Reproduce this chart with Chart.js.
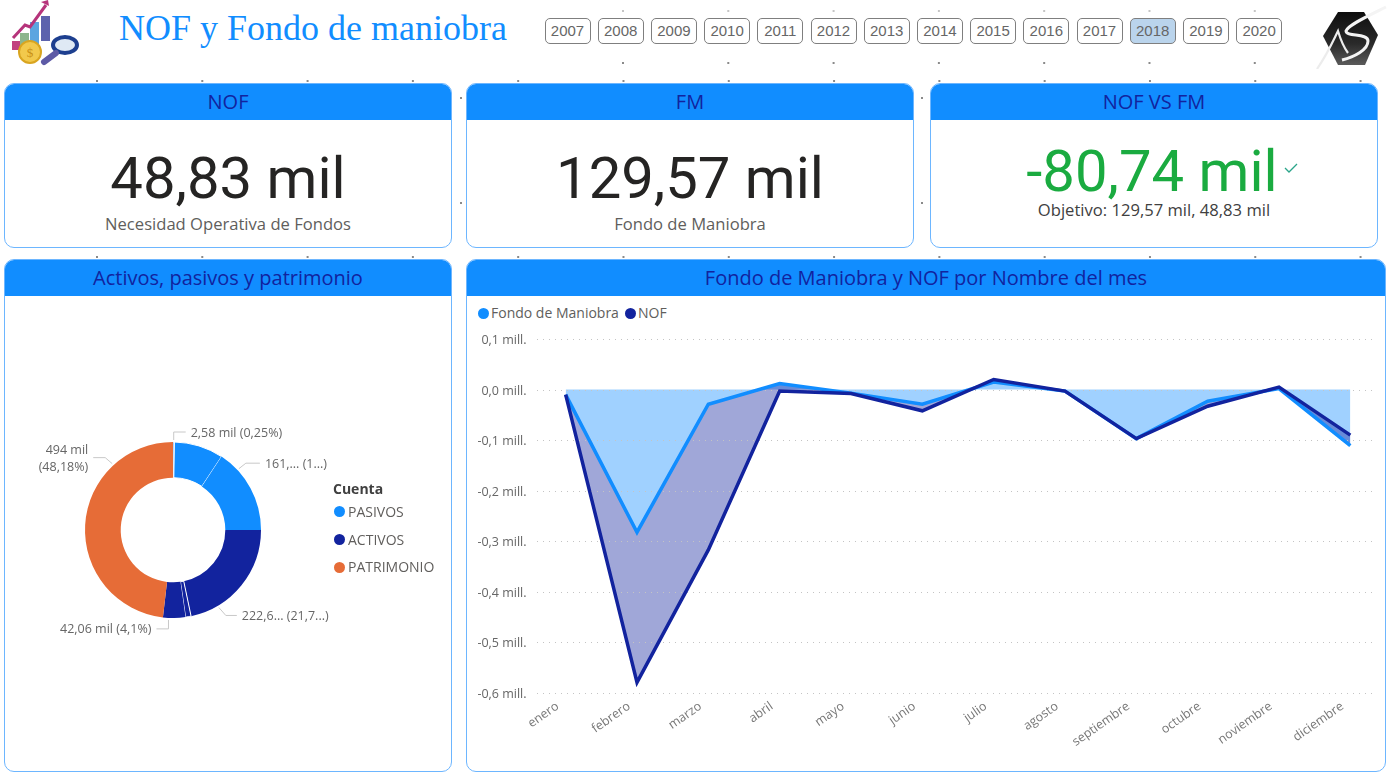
<!DOCTYPE html>
<html lang="es">
<head>
<meta charset="utf-8">
<title>NOF y Fondo de maniobra</title>
<script src="https://cdn.jsdelivr.net/npm/chart.js@4"></script>
<style>
    html, body { margin: 0; padding: 0; background: #fff; }
    body { width: 1391px; height: 775px; position: relative; overflow: hidden; font-family: "Open Sans", sans-serif; }
    .abs { position: absolute; }
    .dots { position: absolute; height: 2px; background: radial-gradient(circle at 1px 1px, #8a8a8a 0.9px, transparent 1.1px) 0 0 / 105.3px 2px repeat-x; }
    .title { left: 119px; top: 7px; font: 36px "Liberation Serif", serif; color: #118dff; white-space: nowrap; }
    .year { position: absolute; top: 18px; width: 44px; height: 24px; border: 1.5px solid #7f7f7f; border-radius: 5px; font: 15px/24px "Liberation Sans", sans-serif; color: #666; text-align: center; }
    .year.on { background: #bad4ec; }
    .card { position: absolute; box-sizing: border-box; background: #fff; border: 1px solid #6db6ff; border-radius: 10px; overflow: hidden; }
    .card .head { height: 36px; background: #118dff; color: #12239e; font-size: 20px; line-height: 36px; text-align: center; font-weight: 500; }
    .kpi { position: absolute; left: 0; right: 0; text-align: center; white-space: nowrap; }
    .big { font: 400 58px/60px Roboto, sans-serif; color: #252423; }
    .sub { font-size: 16.6px; line-height: 20px; color: #605e5c; }
    .lg { position: absolute; font-size: 14px; line-height: 18px; color: #605e5c; white-space: nowrap; }
    .dot { position: absolute; width: 11px; height: 11px; border-radius: 50%; }
    canvas { position: absolute; }
</style>
</head>
<body>
<div class="dots" style="left:96px;top:80px;width:1290px"></div>
<div class="dots" style="left:96px;top:256px;width:1290px"></div>
<div class="dots" style="left:622px;top:62px;width:720px"></div>
<div class="dots" style="left:622px;top:10px;width:720px;opacity:0.5"></div>
<div class="dots" style="left:460px;top:97px;width:4px"></div>
<div class="dots" style="left:460px;top:202px;width:4px"></div>
<div class="dots" style="left:921px;top:97px;width:4px"></div>
<div class="dots" style="left:921px;top:202px;width:4px"></div>

<svg class="abs" style="left:8px;top:0" width="74" height="68" viewBox="0 0 74 68">
    <rect x="4" y="41" width="11" height="9" fill="#c2417f"/>
    <rect x="12" y="33" width="9" height="20" fill="#8db58c"/>
    <rect x="22" y="22" width="9" height="24" fill="#5ba5e0"/>
    <rect x="33" y="16" width="9" height="25" fill="#5d63ad"/>
    <path d="M5 38 L17 25 L22 27 L38 5" fill="none" stroke="#b6347b" stroke-width="3"/>
    <path d="M33 2 L40 0 L41 6 Z" fill="#b6347b"/>
    <circle cx="22" cy="52" r="11" fill="#f2c94c" stroke="#d9a520" stroke-width="2"/>
    <text x="22" y="57" font-size="13" font-family="Liberation Serif" text-anchor="middle" fill="#c98f14">$</text>
    <ellipse cx="57" cy="45" rx="12" ry="8" fill="#dfe9f4" stroke="#1d3f8f" stroke-width="4"/>
    <path d="M48 53 L36 62" stroke="#5d5aa6" stroke-width="6" stroke-linecap="round"/>
</svg>
<div class="abs title">NOF y Fondo de maniobra</div>
<div id="years"></div>
<svg class="abs" style="left:1316px;top:3px" width="72" height="66" viewBox="0 0 72 66">
    <defs>
        <linearGradient id="hex" x1="0" y1="0" x2="0" y2="1">
            <stop offset="0" stop-color="#0e0e0e"/>
            <stop offset="0.6" stop-color="#2a2a2a"/>
            <stop offset="1" stop-color="#5a5a5a"/>
        </linearGradient>
    </defs>
    <path d="M22 9 L48 9 L62 32 L49 62 L22 62 L7 33 Z" fill="url(#hex)"/>
    <path d="M1 66 C12 50 17 38 22 28 C25 38 29 46 32 50" fill="none" stroke="#ececec" stroke-width="2.2"/>
    <path d="M70 4 C52 13 32 22 30 28 C30 34 52 30 52 38 C52 47 38 54 26 57" fill="none" stroke="#f4f4f4" stroke-width="3"/>
</svg>

<div class="card" style="left:4px;top:83px;width:448px;height:165px">
    <div class="head">NOF</div>
    <div class="kpi big" style="top:64px">48,83 mil</div>
    <div class="kpi sub" style="top:130px">Necesidad Operativa de Fondos</div>
</div>
<div class="card" style="left:466px;top:83px;width:448px;height:165px">
    <div class="head">FM</div>
    <div class="kpi big" style="top:64px">129,57 mil</div>
    <div class="kpi sub" style="top:130px">Fondo de Maniobra</div>
</div>
<div class="card" style="left:930px;top:83px;width:448px;height:165px">
    <div class="head">NOF VS FM</div>
    <div class="kpi big" style="top:57px;left:-4px;color:#1aab40">-80,74 mil</div>
    <svg class="abs" style="left:352px;top:78px" width="16" height="12"><path d="M2 6 L6 10 L14 2" fill="none" stroke="#2aa58a" stroke-width="1.3"/></svg>
    <div class="kpi sub" style="top:116px;color:#404040">Objetivo: 129,57 mil, 48,83 mil</div>
</div>
<div class="card" style="left:4px;top:259px;width:448px;height:513px">
    <div class="head">Activos, pasivos y patrimonio</div>
</div>
<div class="card" style="left:466px;top:259px;width:920px;height:513px">
    <div class="head">Fondo de Maniobra y NOF por Nombre del mes</div>
</div>

<canvas id="donut" width="440" height="460" style="left:5px;top:300px"></canvas>
<div class="lg" style="left:333px;top:480px;font-weight:700;color:#404040">Cuenta</div>
<div class="dot" style="left:334px;top:506px;background:#118dff"></div>
<div class="lg" style="left:348px;top:503px">PASIVOS</div>
<div class="dot" style="left:334px;top:534px;background:#12239e"></div>
<div class="lg" style="left:348px;top:531px">ACTIVOS</div>
<div class="dot" style="left:334px;top:562px;background:#e66c37"></div>
<div class="lg" style="left:348px;top:558px">PATRIMONIO</div>

<canvas id="lines" width="916" height="440" style="left:470px;top:325px"></canvas>
<div class="dot" style="left:478px;top:308px;background:#118dff"></div>
<div class="lg" style="left:491px;top:304px">Fondo de Maniobra</div>
<div class="dot" style="left:625px;top:308px;background:#12239e"></div>
<div class="lg" style="left:638px;top:304px">NOF</div>

<script>
const years = [2007, 2008, 2009, 2010, 2011, 2012, 2013, 2014, 2015, 2016, 2017, 2018, 2019, 2020];
const selectedYear = 2018;

const months = ["enero", "febrero", "marzo", "abril", "mayo", "junio", "julio", "agosto", "septiembre", "octubre", "noviembre", "diciembre"];
const fondoManiobra = [-0.01, -0.282, -0.029, 0.012, -0.007, -0.029, 0.015, -0.003, -0.097, -0.023, 0.002, -0.111];
const nof = [-0.01, -0.579, -0.317, -0.003, -0.008, -0.042, 0.02, -0.003, -0.097, -0.033, 0.005, -0.09];

const cuentaValues = [2.58, 92.8, 161, 222.6, 10.4, 42.06, 494];
const cuentaColors = ["#118dff", "#118dff", "#118dff", "#12239e", "#12239e", "#12239e", "#e66c37"];
const cuentaBorders = [1, 1, 0, 0, 1, 0, 0];

// leader lines of the donut: slice, where along the slice, elbow, horizontal run
const donutLabels = [
    { slice: 0, at: 0.5, elbow: [0, -8], run: 12, lines: ["2,58 mil (0,25%)"] },
    { slice: 2, at: 0.24, elbow: [7, -5.5], run: 14, lines: ["161,... (1...)"] },
    { slice: 3, at: 0.76, elbow: [7, 8], run: 11, lines: ["222,6... (21,7...)"] },
    { slice: 5, at: 0.75, elbow: [0, 9], run: -12, lines: ["42,06 mil (4,1%)"] },
    { slice: 6, at: 0.755, elbow: [-7, -6], run: -12, lines: ["494 mil", "(48,18%)"] },
];

const yearsBox = document.getElementById("years");
years.forEach((y, i) => {
    const b = document.createElement("div");
    b.className = y === selectedYear ? "year on" : "year";
    b.style.left = 544.5 + i * 53.2 + "px";
    b.textContent = y;
    yearsBox.appendChild(b);
});

const donutLeaders = {
    id: "donutLeaders",
    afterDraw(chart) {
        const ctx = chart.ctx;
        const arcs = chart.getDatasetMeta(0).data;
        ctx.save();
        ctx.font = "12.5px 'Open Sans'";
        ctx.textBaseline = "middle";
        donutLabels.forEach((l) => {
            const arc = arcs[l.slice];
            const a = arc.startAngle + (arc.endAngle - arc.startAngle) * l.at;
            const r = arc.outerRadius + 2;
            const x0 = arc.x + Math.cos(a) * r;
            const y0 = arc.y + Math.sin(a) * r;
            const x1 = x0 + l.elbow[0];
            const y1 = y0 + l.elbow[1];
            const x2 = x1 + l.run;
            ctx.strokeStyle = "#c8c8c8";
            ctx.lineWidth = 1;
            ctx.beginPath();
            ctx.moveTo(x0, y0);
            ctx.lineTo(x1, y1);
            ctx.lineTo(x2, y1);
            ctx.stroke();
            ctx.fillStyle = "#666";
            ctx.textAlign = l.run > 0 ? "left" : "right";
            const tx = x2 + (l.run > 0 ? 5 : -5);
            l.lines.forEach((t, i) => {
                ctx.fillText(t, tx, y1 + 1 + (i - (l.lines.length - 1) / 2) * 17);
            });
        });
        ctx.restore();
    },
};

new Chart(document.getElementById("donut"), {
    type: "doughnut",
    data: {
        labels: cuentaValues.map((v, i) => i),
        datasets: [{
            data: cuentaValues,
            backgroundColor: cuentaColors,
            borderColor: "#fff",
            borderWidth: cuentaBorders,
        }],
    },
    options: {
        responsive: false,
        animation: false,
        radius: 88,
        cutout: 52,
        layout: { padding: { left: 80, right: 184, top: 142, bottom: 142 } },
        plugins: { legend: { display: false }, tooltip: { enabled: false } },
    },
    plugins: [donutLeaders],
});

// dotted gridlines stop short of the plot edges, so they are drawn by hand from the y scale
const dottedGrid = {
    id: "dottedGrid",
    beforeDatasetsDraw(chart) {
        const ctx = chart.ctx;
        const yScale = chart.scales.y;
        ctx.save();
        ctx.strokeStyle = "#c4c4c4";
        ctx.lineWidth = 1;
        ctx.setLineDash([1, 5]);
        yScale.ticks.forEach((t) => {
            const y = Math.round(yScale.getPixelForValue(t.value)) + 0.5;
            ctx.beginPath();
            ctx.moveTo(67, y);
            ctx.lineTo(905, y);
            ctx.stroke();
        });
        ctx.restore();
    },
};

new Chart(document.getElementById("lines"), {
    type: "line",
    data: {
        labels: months,
        datasets: [
            {
                label: "Fondo de Maniobra",
                data: fondoManiobra,
                borderColor: "#118dff",
                backgroundColor: "rgba(17, 141, 255, 0.4)",
                borderWidth: 3.5,
                fill: "origin",
                order: 1,
            },
            {
                label: "NOF",
                data: nof,
                borderColor: "#12239e",
                backgroundColor: "rgba(18, 35, 158, 0.4)",
                borderWidth: 3.5,
                fill: 0,
                order: 0,
            },
        ],
    },
    options: {
        responsive: false,
        animation: false,
        elements: { point: { radius: 0 }, line: { tension: 0, borderJoinStyle: "miter" } },
        layout: { padding: { top: 14 } },
        scales: {
            x: {
                offset: true,
                grid: { display: false },
                border: { display: false },
                afterFit(scale) { scale.height = 72; },
                ticks: { minRotation: 35, maxRotation: 35, padding: -2, labelOffset: -8, color: "#777", font: { family: "Open Sans", size: 12.5 } },
            },
            y: {
                min: -0.6,
                max: 0.1,
                grid: { display: false },
                border: { display: false },
                afterFit(scale) { scale.width = 60; },
                ticks: {
                    stepSize: 0.1,
                    padding: -4.5,
                    labelOffset: 1.5,
                    color: "#666",
                    font: { family: "Open Sans", size: 12.5 },
                    callback(v) {
                        return (Math.abs(v) < 1e-9 ? 0 : v).toFixed(1).replace(".", ",") + " mill.";
                    },
                },
            },
        },
        plugins: {
            legend: { display: false },
            tooltip: { enabled: false },
            filler: { drawTime: "beforeDatasetsDraw" },
        },
    },
    plugins: [dottedGrid],
});
</script>
</body>
</html>
